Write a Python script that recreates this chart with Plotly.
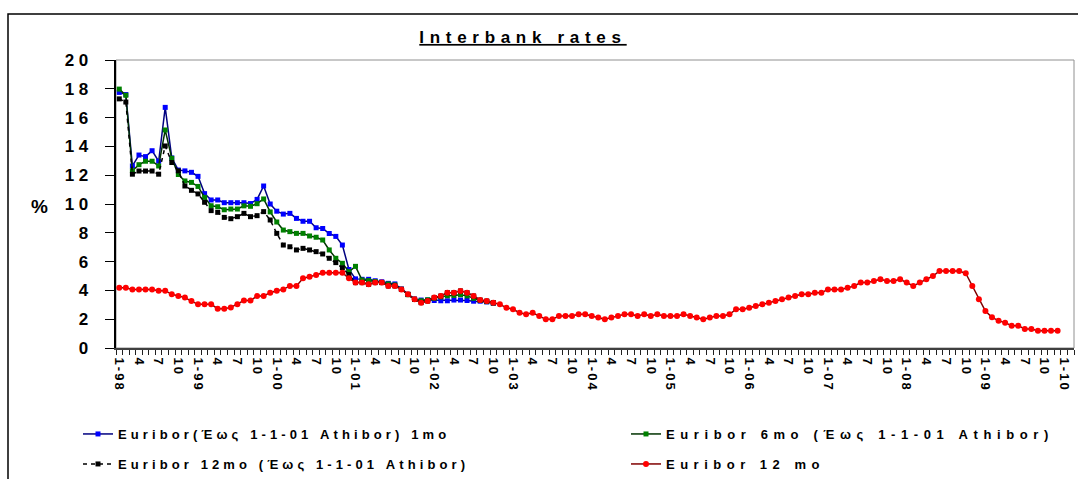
import plotly.graph_objects as go

# ---------------- data (monthly, Jan-1998 .. ) ----------------
n_cats = 146  # Jan-98 .. Feb-10 category slots
years = ["98", "99", "00", "01", "02", "03", "04", "05", "06", "07", "08", "09", "10"]
month_labels = ["1-{y}", "4", "7", "10"]

euribor_1m = [17.75, 17.6, 12.64, 13.4, 13.29, 13.7, 12.97, 16.71, 13.2, 12.36, 12.3, 12.2,
              11.92, 10.72, 10.28, 10.28, 10.09, 10.09, 10.09, 10.09, 10.03, 10.32, 11.25, 10.0,
              9.5, 9.3, 9.35, 9.0, 8.8, 8.8, 8.35, 8.3, 7.95, 7.75, 7.15, 5.45,
              4.8, 4.77, 4.77, 4.67, 4.6, 4.49, 4.45, 4.1, 3.72, 3.4, 3.33, 3.33,
              3.3, 3.28, 3.28, 3.33, 3.33, 3.3, 3.25, 3.25, 3.2, 3.1]

euribor_6m = [17.98, 17.55, 12.31, 12.73, 12.97, 12.97, 12.64, 15.14, 13.17, 12.05, 11.6, 11.5,
              11.22, 10.46, 9.88, 9.81, 9.6, 9.65, 9.65, 9.87, 9.84, 10.02, 10.35, 9.45,
              8.75, 8.19, 8.08, 7.96, 7.96, 7.78, 7.69, 7.5, 6.81, 6.23, 5.88, 5.3,
              5.67, 4.72, 4.68, 4.62, 4.55, 4.45, 4.38, 4.08, 3.7, 3.38, 3.28, 3.35,
              3.45, 3.55, 3.63, 3.65, 3.7, 3.62, 3.45, 3.3, 3.22, 3.12]

euribor_12m_old = [17.3, 17.08, 12.07, 12.29, 12.29, 12.29, 12.07, 14.03, 12.88, 12.3, 11.25, 10.95,
                   10.7, 10.12, 9.54, 9.42, 9.07, 8.98, 9.12, 9.35, 9.12, 9.19, 9.47, 8.89,
                   7.96, 7.15, 7.03, 6.81, 6.92, 6.81, 6.69, 6.53, 6.23, 5.93, 5.57, 5.1,
                   4.54, 4.54, 4.42, 4.54, 4.54, 4.31, 4.31, 4.07, 3.73, 3.38, 3.15, 3.26,
                   3.5, 3.61, 3.84, 3.84, 3.96, 3.84, 3.61, 3.33, 3.26, 3.15]

euribor_12m = [4.19, 4.19, 4.07, 4.07, 4.07, 4.07, 3.98, 3.98, 3.73, 3.61, 3.5, 3.26,
               3.03, 3.03, 3.03, 2.73, 2.73, 2.82, 3.03, 3.29, 3.29, 3.61, 3.61, 3.84,
               3.98, 4.07, 4.31, 4.31, 4.84, 4.95, 5.07, 5.23, 5.23, 5.23, 5.23, 4.84,
               4.54, 4.54, 4.42, 4.54, 4.54, 4.31, 4.31, 4.07, 3.73, 3.38, 3.15, 3.26,
               3.5, 3.61, 3.84, 3.84, 3.96, 3.84, 3.61, 3.33, 3.26, 3.15, 3.03, 2.8,
               2.69, 2.45, 2.34, 2.45, 2.22, 1.99, 1.99, 2.22, 2.22, 2.22, 2.34, 2.34,
               2.22, 2.11, 1.99, 2.11, 2.22, 2.34, 2.34, 2.22, 2.34, 2.22, 2.34, 2.22,
               2.22, 2.22, 2.34, 2.22, 2.11, 1.99, 2.11, 2.22, 2.22, 2.34, 2.69, 2.69,
               2.8, 2.92, 3.03, 3.15, 3.26, 3.38, 3.5, 3.61, 3.73, 3.73, 3.84, 3.84,
               4.07, 4.07, 4.07, 4.19, 4.31, 4.54, 4.54, 4.65, 4.77, 4.65, 4.65, 4.77,
               4.54, 4.31, 4.54, 4.77, 5.0, 5.35, 5.35, 5.35, 5.35, 5.19, 4.31, 3.38,
               2.57, 2.13, 1.9, 1.76, 1.55, 1.55, 1.32, 1.32, 1.2, 1.2, 1.2, 1.2]

names = ["Euribor(Έως 1-1-01 Athibor) 1mo",
         "Euribor 6mo (Έως 1-1-01 Athibor)",
         "Euribor 12mo (Έως 1-1-01 Athibor)",
         "Euribor 12 mo"]

# ---------------- helpers ----------------
FONT = "Liberation Sans, Arial, sans-serif"
PLOT_L, PLOT_R, PLOT_T, PLOT_B = 116, 1074, 60, 348


def xp(px):
    return (px - PLOT_L) / (PLOT_R - PLOT_L)


def yp(py):
    return (PLOT_B - py) / (PLOT_B - PLOT_T)


def spaced(t, s):
    return f'<span style="letter-spacing:{s}px">{t}</span>'


tickvals, ticktext = [], []
for yi, y in enumerate(years):
    for mi, lab in enumerate(month_labels):
        idx = yi * 12 + mi * 3
        if idx >= n_cats:
            break
        tickvals.append(idx)
        ticktext.append(spaced(lab.format(y=y), 2))

fig = go.Figure()
series = [
    (euribor_1m, names[0], dict(color="#000080", width=1.5), dict(symbol="square", size=5, color="#0000FF"), "legend", 4.1),
    (euribor_6m, names[1], dict(color="#003300", width=1.5), dict(symbol="square", size=5, color="#008000"), "legend2", 5.6),
    (euribor_12m_old, names[2], dict(color="#000000", width=1.5, dash="4px,4px"), dict(symbol="square", size=5, color="#000000"), "legend3", 4.1),
    (euribor_12m, names[3], dict(color="#800000", width=1.5), dict(symbol="circle", size=6, color="#FF0000"), "legend4", 5.5),
]
for vals, nm, ln, mk, lg, sp in series:
    fig.add_trace(go.Scatter(
        x=list(range(len(vals))), y=vals, mode="lines+markers",
        name=spaced(nm, sp), line=ln, marker=mk, legend=lg,
    ))

leg_font = dict(family=FONT, size=13, color="black", weight="bold")


def leg(px, py):
    return dict(x=xp(px), y=yp(py), xanchor="left", yanchor="middle",
                bgcolor="rgba(0,0,0,0)", font=leg_font, orientation="h")


fig.update_layout(
    width=1078, height=479,
    margin=dict(l=PLOT_L, r=1078 - PLOT_R, t=PLOT_T, b=479 - PLOT_B, autoexpand=False),
    paper_bgcolor="white", plot_bgcolor="white",
    title=dict(text="<u>" + spaced("Interbank rates", 5.7) + "</u>",
               x=xp(523), xref="paper", xanchor="center",
               y=1 - 37 / 479, yref="container", yanchor="middle",
               font=dict(family=FONT, size=17, color="black", weight="bold")),
    legend=leg(78, 434),
    legend2=leg(626, 434),
    legend3=leg(78, 464),
    legend4=leg(626, 464),
    xaxis=dict(range=[-0.5, n_cats - 0.5], tickmode="array", tickvals=tickvals, ticktext=ticktext,
               tickangle=90, ticks="", showgrid=False, zeroline=False, automargin=False,
               showline=True, linecolor="#404040", linewidth=2, ticklabelstandoff=5,
               tickfont=dict(family=FONT, size=13, color="black", weight="bold"),
               minor=dict(tickmode="array", tickvals=[k - 0.5 for k in range(n_cats + 1)],
                          ticks="outside", ticklen=5, tickcolor="#202020", tickwidth=1, showgrid=False)),
    yaxis=dict(range=[0, 20], tickmode="array", tickvals=list(range(0, 21, 2)),
               ticktext=[spaced(str(v), 4.5) for v in range(0, 21, 2)],
               ticks="outside", ticklen=9, tickcolor="black", tickwidth=1, automargin=False,
               showgrid=False, zeroline=False, showline=True, linecolor="black", linewidth=2,
               ticklabelstandoff=9,
               tickfont=dict(family=FONT, size=17, color="black", weight="bold")),
    showlegend=True,
    shapes=[
        dict(type="rect", xref="paper", yref="paper", x0=0, x1=1, y0=0, y1=1,
             line=dict(color="#909090", width=1), layer="below"),
        dict(type="rect", xref="paper", yref="paper", x0=xp(8), x1=xp(1095), y0=yp(495), y1=yp(14),
             line=dict(color="black", width=1.5), layer="above"),
    ],
    annotations=[dict(text="<b>%</b>", x=xp(39), y=yp(206), xref="paper", yref="paper",
                      xanchor="center", showarrow=False, font=dict(family=FONT, size=19, color="black"))],
)

fig.write_html("out.html", config={"displayModeBar": False},
               post_script="document.body.style.margin='0';")
